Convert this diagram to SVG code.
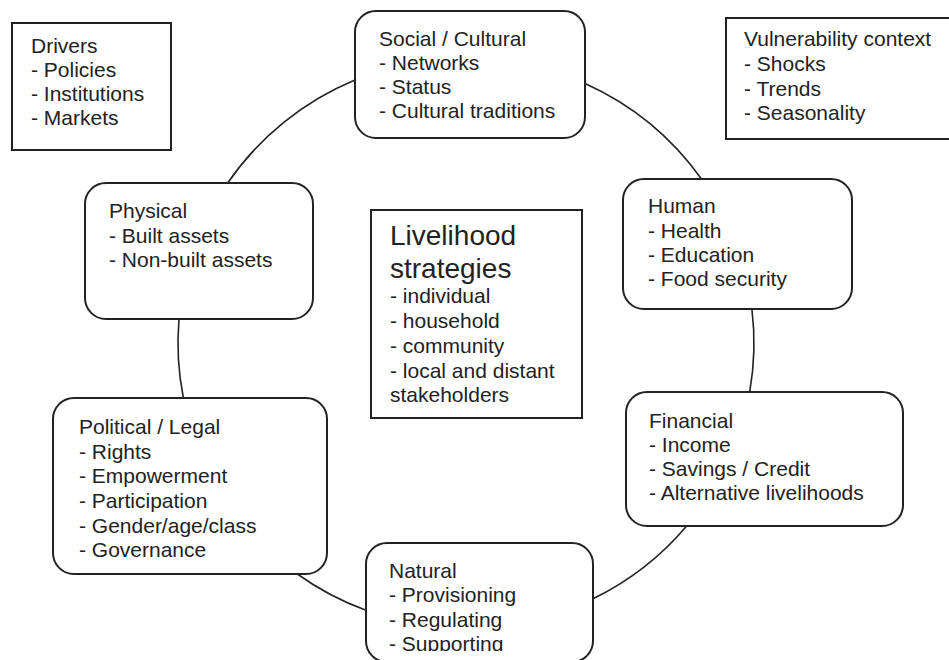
<svg xmlns="http://www.w3.org/2000/svg" width="949" height="660" viewBox="0 0 949 660">
<style>
  .box { fill: #ffffff; stroke: #222222; stroke-width: 2; }
  .lnk { fill: none; stroke: #222222; stroke-width: 1.6; }
  text { font-family: "Liberation Sans", Arial, sans-serif; font-size: 21px; fill: #222222; }
  .big { font-size: 28px; }
</style>
<defs>
  <clipPath id="cut"><rect x="0" y="0" width="949" height="651"/></clipPath>
</defs>
<rect x="0" y="0" width="949" height="660" fill="#ffffff"/>
<g id="connectors">
  <path class="lnk" d="M585,83.4 A288,285 0 0 1 701.5,179"/>
  <path class="lnk" d="M751.9,309 A288,285 0 0 1 749.7,392"/>
  <path class="lnk" d="M686.7,526 A288,285 0 0 1 593,598.8"/>
  <path class="lnk" d="M366,610.3 A288,285 0 0 1 297.3,574"/>
  <path class="lnk" d="M183.4,398 A288,285 0 0 1 179,319"/>
  <path class="lnk" d="M227.7,183 A288,285 0 0 1 355,80"/>
</g>
<g id="drivers">
  <rect class="box" x="12" y="23" width="159" height="127"/>
  <text x="31" y="53">Drivers</text>
  <text x="31" y="77">- Policies</text>
  <text x="31" y="101">- Institutions</text>
  <text x="31" y="125">- Markets</text>
</g>
<g id="social">
  <rect class="box" x="355" y="11" width="230" height="127" rx="21"/>
  <text x="379" y="46">Social / Cultural</text>
  <text x="379" y="70">- Networks</text>
  <text x="379" y="94">- Status</text>
  <text x="379" y="118">- Cultural traditions</text>
</g>
<g id="vulnerability">
  <rect class="box" x="726" y="18" width="240" height="121"/>
  <text x="744" y="46">Vulnerability context</text>
  <text x="744" y="71">- Shocks</text>
  <text x="744" y="96">- Trends</text>
  <text x="744" y="120">- Seasonality</text>
</g>
<g id="physical">
  <rect class="box" x="85" y="183" width="228" height="136" rx="21"/>
  <text x="109" y="218">Physical</text>
  <text x="109" y="243">- Built assets</text>
  <text x="109" y="267">- Non-built assets</text>
</g>
<g id="human">
  <rect class="box" x="623" y="179" width="229" height="130" rx="21"/>
  <text x="648" y="213">Human</text>
  <text x="648" y="238">- Health</text>
  <text x="648" y="262">- Education</text>
  <text x="648" y="286">- Food security</text>
</g>
<g id="livelihood">
  <rect class="box" x="371" y="210" width="211" height="208"/>
  <text class="big" x="390" y="245">Livelihood</text>
  <text class="big" x="390" y="278">strategies</text>
  <text x="390" y="303">- individual</text>
  <text x="390" y="328">- household</text>
  <text x="390" y="353">- community</text>
  <text x="390" y="378">- local and distant</text>
  <text x="390" y="402">stakeholders</text>
</g>
<g id="financial">
  <rect class="box" x="626" y="392" width="277" height="134" rx="21"/>
  <text x="649" y="428">Financial</text>
  <text x="649" y="452">- Income</text>
  <text x="649" y="476">- Savings / Credit</text>
  <text x="649" y="500">- Alternative livelihoods</text>
</g>
<g id="political">
  <rect class="box" x="53" y="398" width="274" height="176" rx="21"/>
  <text x="79" y="434">Political / Legal</text>
  <text x="79" y="459">- Rights</text>
  <text x="79" y="483">- Empowerment</text>
  <text x="79" y="508">- Participation</text>
  <text x="79" y="533">- Gender/age/class</text>
  <text x="79" y="557">- Governance</text>
</g>
<g id="natural">
  <rect class="box" x="366" y="543" width="227" height="119" rx="21"/>
  <g clip-path="url(#cut)">
    <text x="389" y="578">Natural</text>
    <text x="389" y="602">- Provisioning</text>
    <text x="389" y="627">- Regulating</text>
    <text x="389" y="651">- Supporting</text>
  </g>
</g>
</svg>
